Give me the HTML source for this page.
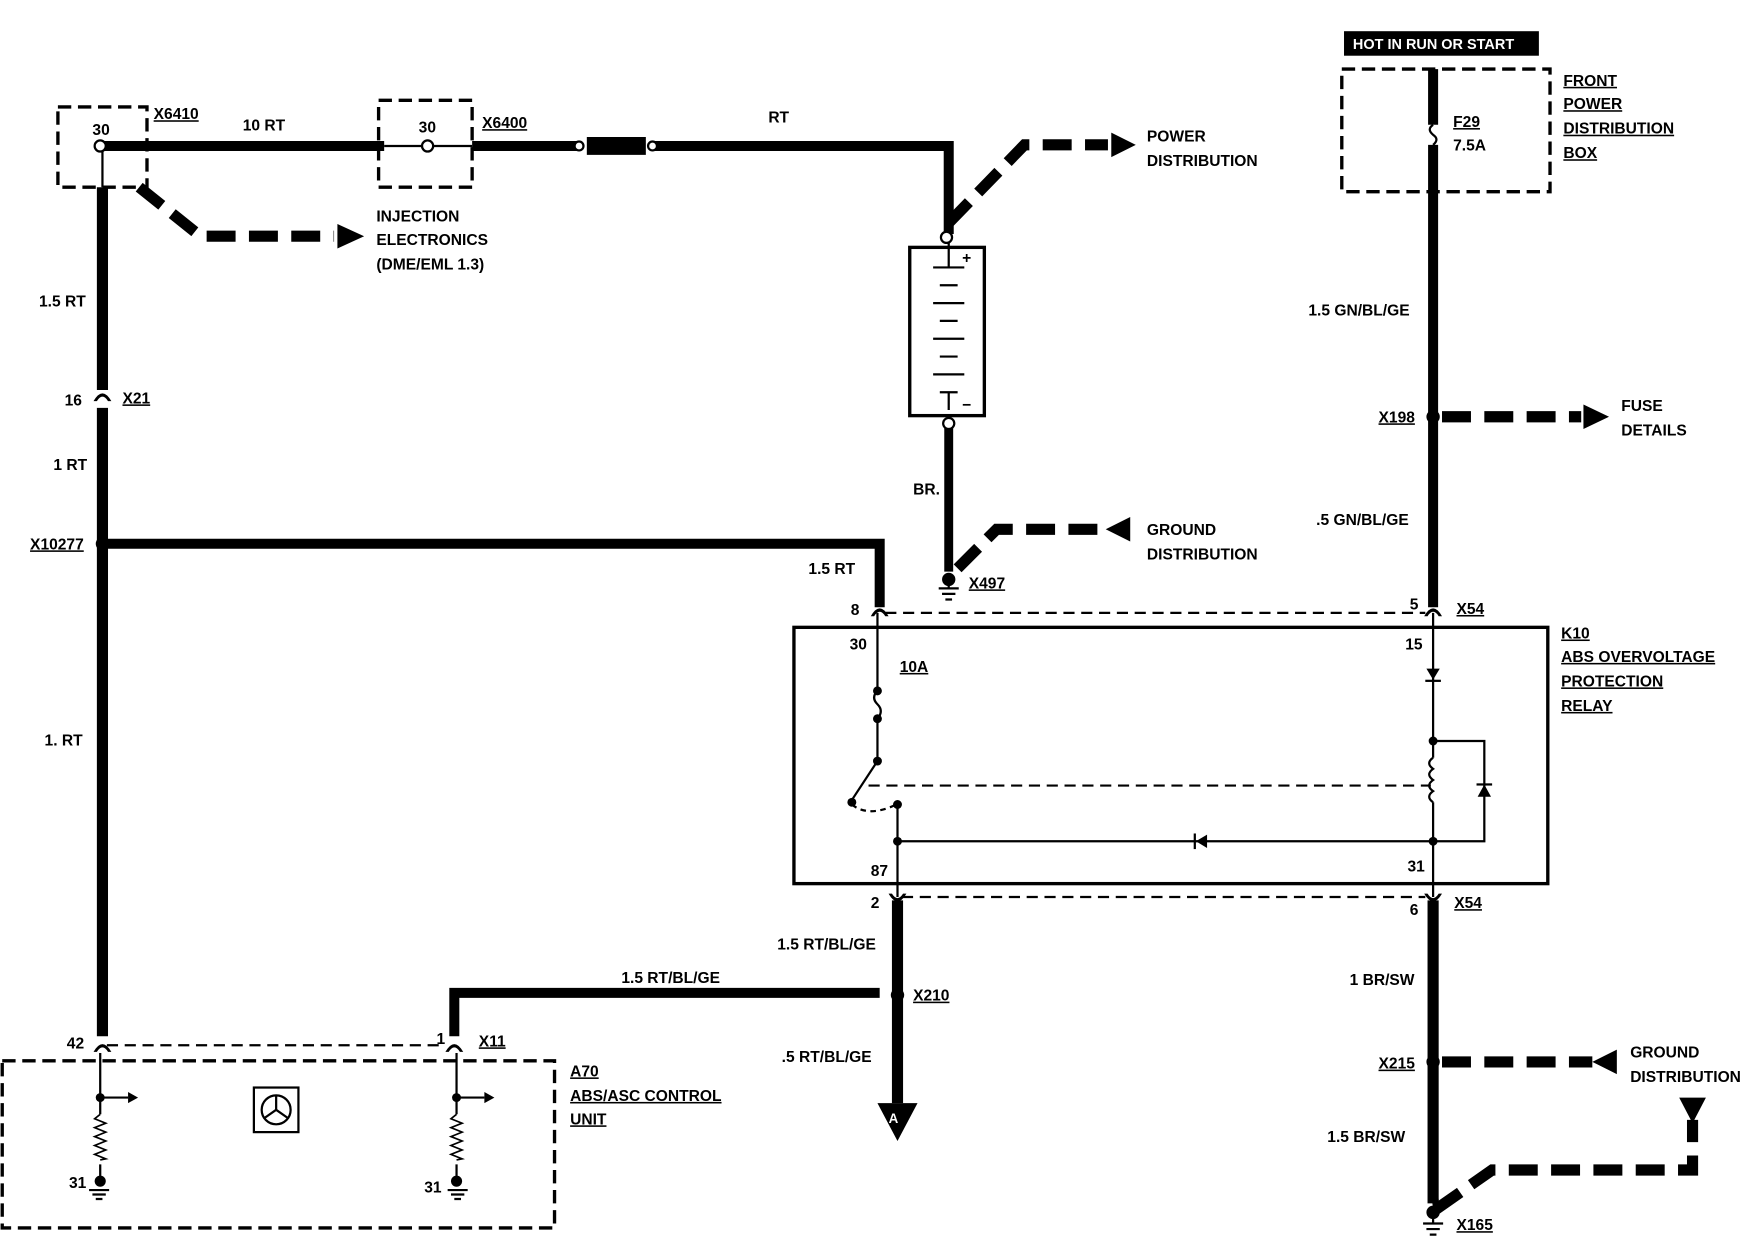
<!DOCTYPE html>
<html><head><meta charset="utf-8"><style>
html,body{margin:0;padding:0;background:#fff;width:1746px;height:1248px;overflow:hidden}
svg text{font-family:"Liberation Sans",sans-serif;font-weight:bold;font-size:14px;fill:#000}
</style></head><body>
<svg width="1746" height="1248" viewBox="0 0 1568 1120" preserveAspectRatio="none" xmlns="http://www.w3.org/2000/svg">
<rect width="1568" height="1120" fill="#fff"/>
<g fill="none" stroke="#000">
<!-- dashed boxes -->
<rect x="52" y="96" width="80" height="72" stroke-width="3" stroke-dasharray="12,6"/>
<rect x="340" y="90" width="84" height="78" stroke-width="3" stroke-dasharray="12,6"/>
<rect x="1205" y="62" width="187" height="110" stroke-width="3" stroke-dasharray="12,6"/>
<rect x="2" y="952" width="496" height="150" stroke-width="3" stroke-dasharray="12,6"/>
<!-- thick wires -->
<path d="M92 131 H345" stroke-width="9"/>
<path d="M345 131 H384" stroke-width="2"/>
<path d="M384 131 H424" stroke-width="2"/>
<path d="M424 131 H520 M585 131 H852 V210" stroke-width="9"/>
<path d="M527 131 H580" stroke-width="16"/>
<path d="M92 168 V350 M92 366 V930" stroke-width="10"/>
<path d="M92 131 V168" stroke-width="2"/>
<path d="M92 488 H790 V545" stroke-width="9"/>
<path d="M852 380 V513" stroke-width="8"/>
<path d="M1287 62 V112 M1287 130 V545" stroke-width="9"/>
<path d="M1287 112 q-6 4 0 9 q6 4 0 9" stroke-width="2"/>
<path d="M806 808 V990" stroke-width="10"/>
<path d="M790 891 H408 V930" stroke-width="9"/>
<path d="M1287 808 V1080" stroke-width="10"/>
<path d="M1287 1060 L1290 1085" stroke-width="6"/>
<!-- dashed arrows -->
<path d="M125 168 L180 212 H300" stroke-width="10" stroke-dasharray="26,12"/>
<path d="M852 200 L920 130 H995" stroke-width="10" stroke-dasharray="26,12"/>
<path d="M860 510 L895 475 H995" stroke-width="10" stroke-dasharray="26,12"/>
<path d="M1295 374 H1420" stroke-width="10" stroke-dasharray="26,12"/>
<path d="M1295 953 H1430" stroke-width="10" stroke-dasharray="26,12"/>
<path d="M1290 1085 L1340 1050 H1520 V1005" stroke-width="10" stroke-dasharray="26,12"/>
<!-- thin dashed connectors -->
<path d="M795 550 H1280 M810 805 H1280 M96 938 H400" stroke-width="2" stroke-dasharray="10,6"/>
<!-- battery -->
<rect x="817" y="222" width="67" height="151" stroke-width="3"/>
<path d="M852 215 V240 M838 240 H866 M844 256 H860 M838 272 H866 M844 288 H860 M838 304 H866 M844 320 H860 M838 336 H866 M844 352 H860 M852 352 V368" stroke-width="2"/>
<!-- relay box -->
<rect x="713" y="563" width="677" height="230" stroke-width="3"/>
<path d="M788 550 V620 M788 645 V683 L765 718" stroke-width="2"/>
<path d="M788 620 q-6 6 0 12 q6 6 0 13" stroke-width="2"/>
<path d="M780 705 H1285" stroke-width="2" stroke-dasharray="10,6"/>
<path d="M765 722 q15 12 40 0" stroke-width="2" stroke-dasharray="5,4"/>
<path d="M806 722 V805 M806 755 H1287 M1287 550 V680 M1287 720 V805 M1287 665 H1333 V755 H1287" stroke-width="2"/>
<path d="M1287 680 q-7 5 0 10 q-7 5 0 10 q-7 5 0 10 q-7 5 0 10" stroke-width="2"/>
<!-- A70 internals -->
<path d="M90 945 V980 M90 985 H115 M410 945 V980 M410 985 H435 M90 980 V1000 M410 980 V1000 M90 1045 V1060 M410 1045 V1060" stroke-width="2"/>
<path d="M90 1000 l-5 4 l10 4 l-10 4 l10 4 l-10 4 l10 4 l-10 4 l10 4 l-10 4 l10 4 l-5 1" stroke-width="1.5"/>
<path d="M410 1000 l-5 4 l10 4 l-10 4 l10 4 l-10 4 l10 4 l-10 4 l10 4 l-10 4 l10 4 l-5 1" stroke-width="1.5"/>
<rect x="228" y="976" width="40" height="40" stroke-width="2"/>
<circle cx="248" cy="996" r="13" stroke-width="2"/>
<path d="M248 996 L238 1003 M248 996 L258 1003 M248 983 V996" stroke-width="2"/>
<!-- grounds -->
<path d="M843 528 H861 M846 533 H858 M849 538 H855 M852 520 V528 M1278 1098 H1296 M1281 1103 H1293 M1284 1108 H1290 M1287 1088 V1098 M80 1068 H98 M83 1072 H95 M86 1076 H92 M402 1068 H420 M405 1072 H417 M408 1076 H414" stroke-width="2"/>
</g>
<g fill="#000">
<circle cx="90" cy="131" r="5" fill="#fff" stroke="#000" stroke-width="2"/>
<circle cx="384" cy="131" r="5" fill="#fff" stroke="#000" stroke-width="2"/>
<circle cx="520" cy="131" r="4" fill="#fff" stroke="#000" stroke-width="2"/>
<circle cx="586" cy="131" r="4" fill="#fff" stroke="#000" stroke-width="2"/>
<circle cx="850" cy="213" r="5" fill="#fff" stroke="#000" stroke-width="2"/>
<circle cx="852" cy="380" r="5" fill="#fff" stroke="#000" stroke-width="2"/>
<circle cx="92" cy="488" r="6"/><circle cx="1287" cy="374" r="6"/><circle cx="806" cy="893" r="6"/><circle cx="1287" cy="953" r="6"/>
<circle cx="852" cy="520" r="6"/><circle cx="1287" cy="1088" r="6"/>
<circle cx="788" cy="620" r="4"/><circle cx="788" cy="645" r="4"/><circle cx="788" cy="683" r="4"/><circle cx="765" cy="720" r="4"/><circle cx="806" cy="722" r="4"/><circle cx="806" cy="755" r="4"/>
<circle cx="1287" cy="665" r="4"/><circle cx="1287" cy="755" r="4"/>
<circle cx="90" cy="985" r="4"/><circle cx="410" cy="985" r="4"/><circle cx="90" cy="1060" r="5"/><circle cx="410" cy="1060" r="5"/>
<!-- arrowheads -->
<polygon points="303,201 327,212 303,223"/>
<polygon points="998,119 1020,130 998,141"/>
<polygon points="1015,464 993,475 1015,486"/>
<polygon points="1422,363 1445,374 1422,385"/>
<polygon points="1452,942 1430,953 1452,964"/>
<polygon points="1508,985 1532,985 1520,1008"/>
<polygon points="788,990 824,990 806,1024"/>
<polygon points="115,980 124,985 115,990"/><polygon points="435,980 444,985 435,990"/>
<!-- diodes -->
<polygon points="1281,600 1293,600 1287,610"/><rect x="1280" y="610" width="14" height="2"/>
<polygon points="1327,715 1339,715 1333,704"/><rect x="1326" y="703" width="14" height="2"/>
<polygon points="1084,749 1084,761 1074,755"/><rect x="1072" y="748" width="2" height="14"/>
<!-- forks at connectors -->
<path d="M84 360 Q92 346 100 360 L97 360 Q92 352 87 360Z"/>
<path d="M782 553 Q790 539 798 553 L795 553 Q790 545 785 553Z"/>
<path d="M1279 553 Q1287 539 1295 553 L1292 553 Q1287 545 1282 553Z"/>
<path d="M84 944 Q92 930 100 944 L97 944 Q92 936 87 944Z"/>
<path d="M400 944 Q408 930 416 944 L413 944 Q408 936 403 944Z"/>
<path d="M798 802 Q806 816 814 802 L811 802 Q806 810 801 802Z"/>
<path d="M1279 802 Q1287 816 1295 802 L1292 802 Q1287 810 1282 802Z"/>
<rect x="1207" y="28" width="175" height="22"/>
</g>
<text x="1215" y="44" style="fill:#fff;font-size:13px">HOT IN RUN OR START</text>
<text x="83" y="121" font-size="12">30</text>
<text x="376" y="119" font-size="12">30</text>
<text x="138" y="107" text-decoration="underline">X6410</text>
<text x="218" y="117">10 RT</text>
<text x="433" y="115" text-decoration="underline">X6400</text>
<text x="690" y="110">RT</text>
<text x="1030" y="127">POWER</text><text x="1030" y="149">DISTRIBUTION</text>
<text x="338" y="199">INJECTION</text><text x="338" y="220">ELECTRONICS</text><text x="338" y="242">(DME/EML 1.3)</text>
<text x="864" y="236" font-size="12">+</text><text x="864" y="368" font-size="12">−</text>
<text x="35" y="275">1.5 RT</text>
<text x="58" y="364">16</text><text x="110" y="362" text-decoration="underline">X21</text>
<text x="48" y="422">1 RT</text>
<text x="27" y="493" text-decoration="underline">X10277</text>
<text x="820" y="444">BR.</text>
<text x="1030" y="480">GROUND</text><text x="1030" y="502">DISTRIBUTION</text>
<text x="870" y="528" text-decoration="underline">X497</text>
<text x="726" y="515">1.5 RT</text>
<text x="764" y="552">8</text>
<text x="1404" y="77" text-decoration="underline">FRONT</text>
<text x="1404" y="98" text-decoration="underline">POWER</text>
<text x="1404" y="120" text-decoration="underline">DISTRIBUTION</text>
<text x="1404" y="142" text-decoration="underline">BOX</text>
<text x="1305" y="114" text-decoration="underline">F29</text><text x="1305" y="135">7.5A</text>
<text x="1175" y="283">1.5 GN/BL/GE</text>
<text x="1238" y="379" text-decoration="underline">X198</text>
<text x="1456" y="369">FUSE</text><text x="1456" y="391">DETAILS</text>
<text x="1182" y="471">.5 GN/BL/GE</text>
<text x="1266" y="547">5</text><text x="1308" y="551" text-decoration="underline">X54</text>
<text x="1402" y="573" text-decoration="underline">K10</text>
<text x="1402" y="594" text-decoration="underline">ABS OVERVOLTAGE</text>
<text x="1402" y="616" text-decoration="underline">PROTECTION</text>
<text x="1402" y="638" text-decoration="underline">RELAY</text>
<text x="763" y="583">30</text><text x="808" y="603" text-decoration="underline">10A</text>
<text x="1262" y="583">15</text>
<text x="782" y="786">87</text><text x="1264" y="782">31</text>
<text x="782" y="815">2</text><text x="1266" y="821">6</text><text x="1306" y="815" text-decoration="underline">X54</text>
<text x="40" y="669">1. RT</text>
<text x="698" y="852">1.5 RT/BL/GE</text>
<text x="558" y="882">1.5 RT/BL/GE</text>
<text x="820" y="898" text-decoration="underline">X210</text>
<text x="702" y="953">.5 RT/BL/GE</text>
<text x="798" y="1008" style="fill:#fff;font-size:12px">A</text>
<text x="1212" y="884">1 BR/SW</text>
<text x="1238" y="959" text-decoration="underline">X215</text>
<text x="1464" y="949">GROUND</text><text x="1464" y="971">DISTRIBUTION</text>
<text x="1192" y="1025">1.5 BR/SW</text>
<text x="1308" y="1104" text-decoration="underline">X165</text>
<text x="60" y="941">42</text><text x="392" y="937">1</text><text x="430" y="939" text-decoration="underline">X11</text>
<text x="512" y="966" text-decoration="underline">A70</text>
<text x="512" y="988" text-decoration="underline">ABS/ASC CONTROL</text>
<text x="512" y="1009" text-decoration="underline">UNIT</text>
<text x="62" y="1066">31</text><text x="381" y="1070">31</text>
</svg>
</body></html>
